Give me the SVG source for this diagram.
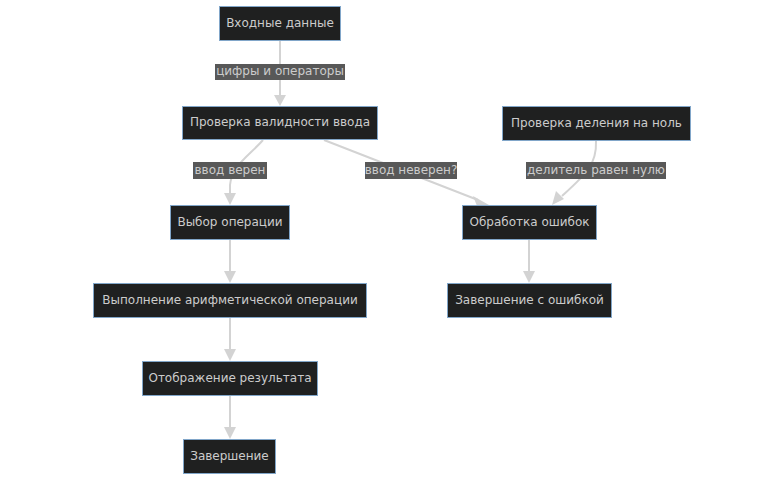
<svg xmlns="http://www.w3.org/2000/svg" width="783" height="481" viewBox="0 0 783 481">
  <style>
    .node rect { fill: #1f2020; stroke: #81a6c9; stroke-width: 1; }
    .node text { fill: #cccccc; font-family: "DejaVu Sans", Verdana, sans-serif; font-size: 12px; text-anchor: middle; dominant-baseline: central; }
    .edge { fill: none; stroke: #d3d3d3; stroke-width: 2; }
    .head { fill: #d3d3d3; }
    .lbl rect { fill: #585858; }
    .lbl text { fill: #cccccc; font-family: "DejaVu Sans", Verdana, sans-serif; font-size: 12px; text-anchor: middle; dominant-baseline: central; }
  </style>
  <rect width="783" height="481" fill="#ffffff"/>

  <g id="connectors">
    <!-- lines with their arrowheads -->
    <path class="edge" d="M280,41 L280,96"/>
    <path class="head" d="M274,95 L286,95 L280,106 z"/>

    <path class="edge" d="M263,140 C250,155 232,165 230,185 L230,194"/>
    <path class="head" d="M224,193 L236,193 L230,205 z"/>

    <path class="edge" d="M324,140 L478,200"/>
    <path class="head" d="M473,196 L477,206 L489,205 z"/>

    <path class="edge" d="M596,141 C597,165 585,175 562,196"/>
    <path class="head" d="M556,191 L564,199 L552,205 z"/>

    <path class="edge" d="M529,239 L529,272"/>
    <path class="head" d="M523,271 L535,271 L529,283 z"/>

    <path class="edge" d="M230,239 L230,272"/>
    <path class="head" d="M224,271 L236,271 L230,283 z"/>

    <path class="edge" d="M230,318 L230,350"/>
    <path class="head" d="M224,349 L236,349 L230,361 z"/>

    <path class="edge" d="M230,396 L230,428"/>
    <path class="head" d="M224,427 L236,427 L230,439 z"/>

    <!-- edge labels -->
    <g class="lbl"><rect x="215" y="64" width="130" height="16"/><text x="280" y="71">цифры и операторы</text></g>
    <g class="lbl"><rect x="193" y="162" width="74" height="17"/><text x="230" y="169.5">ввод верен</text></g>
    <g class="lbl"><rect x="365" y="162" width="92" height="17"/><text x="411" y="169.5">ввод неверен?</text></g>
    <g class="lbl"><rect x="526" y="162" width="140" height="17"/><text x="596" y="169.5">делитель равен нулю</text></g>
  </g>

  <g id="input" class="node"><rect x="219.5" y="6.5" width="121" height="34"/><text x="280" y="22.5">Входные данные</text></g>
  <g id="validate" class="node"><rect x="182.5" y="106.5" width="195" height="33"/><text x="280" y="122">Проверка валидности ввода</text></g>
  <g id="divzero" class="node"><rect x="502.5" y="106.5" width="188" height="34"/><text x="596.5" y="122.5">Проверка деления на ноль</text></g>
  <g id="choose" class="node"><rect x="170.5" y="205.5" width="119" height="34"/><text x="230" y="221.5">Выбор операции</text></g>
  <g id="errors" class="node"><rect x="462.5" y="205.5" width="134" height="34"/><text x="529.5" y="221.5">Обработка ошибок</text></g>
  <g id="compute" class="node"><rect x="93.5" y="283.5" width="273" height="34"/><text x="230" y="299.5">Выполнение арифметической операции</text></g>
  <g id="errexit" class="node"><rect x="447.5" y="283.5" width="164" height="34"/><text x="529.5" y="299.5">Завершение с ошибкой</text></g>
  <g id="display" class="node"><rect x="142.5" y="361.5" width="175" height="34"/><text x="230" y="377.5">Отображение результата</text></g>
  <g id="finish" class="node"><rect x="183.5" y="439.5" width="92" height="34"/><text x="229.5" y="455.5">Завершение</text></g>
</svg>
